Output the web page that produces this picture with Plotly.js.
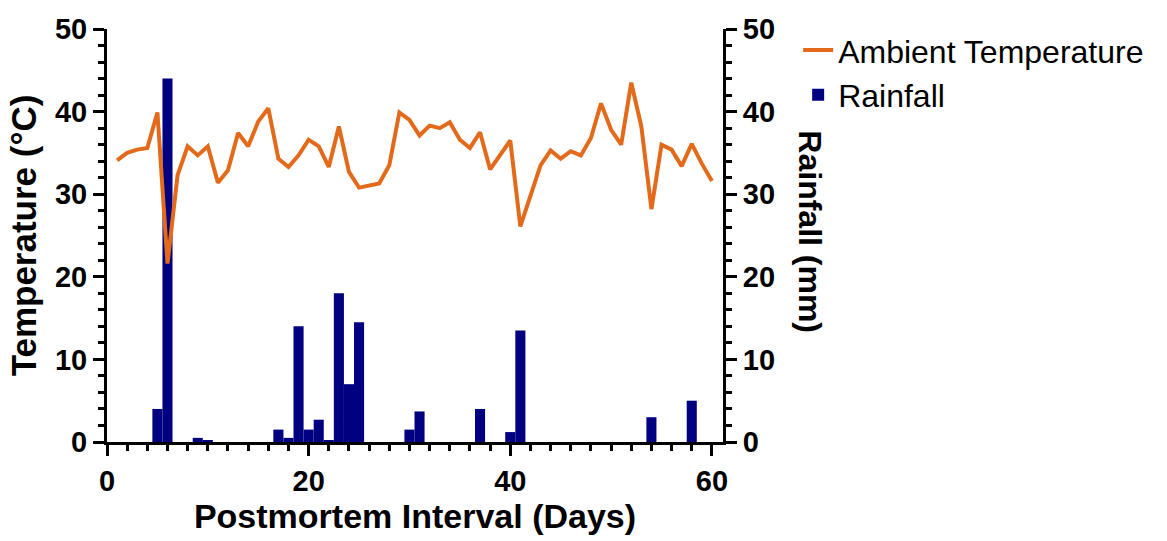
<!DOCTYPE html>
<html>
<head>
<meta charset="utf-8">
<script src="https://cdn.plot.ly/plotly-3.0.1.min.js"></script>
<style>html,body{margin:0;padding:0;background:#fff;}#chart{width:1167px;height:541px;}</style>
</head>
<body>
<div id="chart"></div>
<script>
const tempDays = [1,2,3,4,5,6,7,8,9,10,11,12,13,14,15,16,17,18,19,20,21,22,23,24,25,26,27,28,29,30,31,32,33,34,35,36,37,38,39,40,41,42,43,44,45,46,47,48,49,50,51,52,53,54,55,56,57,58,59,60];
const tempValues = [34.1,35.0,35.4,35.6,39.9,21.6,32.3,35.8,34.7,35.8,31.4,32.9,37.4,35.8,38.8,40.4,34.3,33.3,34.7,36.6,35.8,33.3,38.2,32.7,30.8,31.0,31.3,33.5,39.9,39.0,37.1,38.3,38.0,38.7,36.6,35.6,37.5,33.0,34.7,36.5,26.1,29.9,33.5,35.3,34.3,35.2,34.7,36.8,41.0,37.8,36.0,43.5,38.2,28.2,36.0,35.4,33.4,36.1,33.7,31.6];
const rainDays = [5,6,9,10,17,18,19,20,21,22,23,24,25,30,31,37,40,41,54,58];
const rainValues = [4.0,44,0.5,0.2,1.5,0.5,14,1.5,2.7,0.2,18,7,14.5,1.5,3.7,4.0,1.2,13.5,3.0,5.0];

const FONT = '"Liberation Sans", Arial, sans-serif';
const X_RANGE = [0, 61.1];
const Y_RANGE = [0, 50];
const axisCommon = {
  showline: true, linecolor: '#000', linewidth: 3,
  ticks: 'outside', ticklen: 11, tickwidth: 3, tickcolor: '#000',
  showgrid: false, zeroline: false, tick0: 0,
  tickfont: {family: FONT, size: 29, color: '#000', weight: 'bold'},
  minor: {dtick: 2, ticks: 'outside', ticklen: 6, tickwidth: 3, tickcolor: '#000'}
};

const traces = [
  {
    x: tempDays, y: tempValues, type: 'scatter', mode: 'lines',
    name: 'Ambient Temperature', yaxis: 'y',
    line: {color: '#E46A1B', width: 4}
  },
  {
    x: rainDays, y: rainValues, type: 'bar', name: 'Rainfall', yaxis: 'y2',
    width: 1, marker: {color: '#000080', line: {width: 0}}
  }
];

const layout = {
  width: 1167, height: 541,
  margin: {l: 107, r: 444, t: 29, b: 99},
  paper_bgcolor: '#fff', plot_bgcolor: '#fff',
  showlegend: true,
  legend: {x: 1.122, y: 1.015, xanchor: 'left', yanchor: 'top',
           font: {family: FONT, size: 32, color: '#000'}, bgcolor: 'rgba(0,0,0,0)'},
  xaxis: Object.assign({}, axisCommon, {
    range: X_RANGE, dtick: 20,
    title: {text: 'Postmortem Interval (Days)', standoff: 6,
            font: {family: FONT, size: 34, color: '#000', weight: 'bold'}}
  }),
  yaxis: Object.assign({}, axisCommon, {
    range: Y_RANGE, dtick: 10, overlaying: 'y2', side: 'left', anchor: 'x',
    title: {text: 'Temperature (°C)', standoff: 8,
            font: {family: FONT, size: 35, color: '#000', weight: 'bold'}}
  }),
  yaxis2: Object.assign({}, axisCommon, {
    range: Y_RANGE, dtick: 10, side: 'right', anchor: 'x'
  }),
  annotations: [{
    text: 'Rainfall (mm)', xref: 'paper', yref: 'paper', x: 1.141, y: 0.508,
    xanchor: 'center', yanchor: 'middle', textangle: 90, showarrow: false,
    font: {family: FONT, size: 32, color: '#000', weight: 'bold'}
  }]
};

Plotly.newPlot('chart', traces, layout, {displayModeBar: false});
</script>
</body>
</html>
